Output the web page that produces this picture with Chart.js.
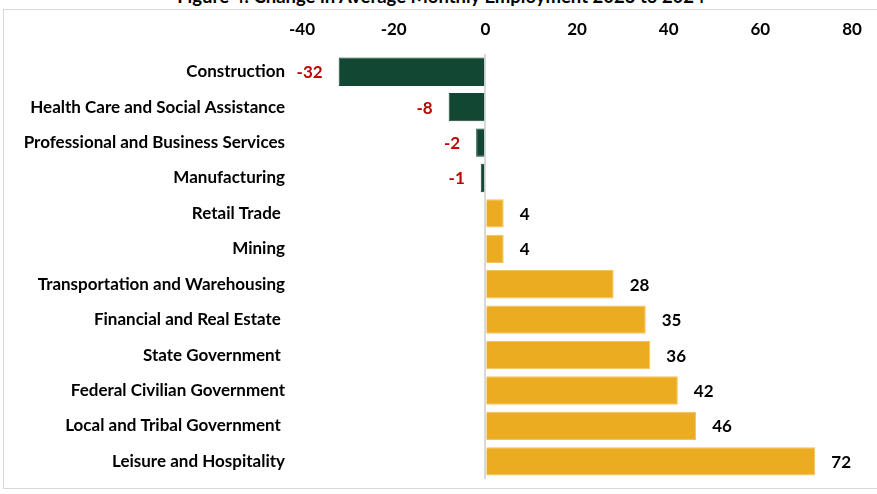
<!DOCTYPE html>
<html>
<head>
<meta charset="utf-8">
<script src="https://cdn.jsdelivr.net/npm/chart.js@4.4.1/dist/chart.umd.min.js"></script>
<style>
  html, body { margin: 0; padding: 0; background: #fff; }
  #wrap { position: relative; width: 877px; height: 494px; overflow: hidden; }
  #frame {
    position: absolute; left: 3px; top: 9px; width: 890px; height: 480px;
    border: 1px solid #d9d9d9; box-sizing: border-box;
  }
  #title {
    position: absolute; left: 0; top: -15px; width: 882px; text-align: center;
    font: bold 18.5px Lato, sans-serif; color: #000; white-space: nowrap;
  }
  #chart { position: absolute; left: 0; top: 0; }
</style>
</head>
<body>
<div id="wrap">
  <div id="frame"></div>
  <div id="title">Figure 4: Change in Average Monthly Employment 2023 to 2024</div>
  <canvas id="chart" width="877" height="494"></canvas>
</div>
<script>
// Change in average monthly employment by industry, 2023 to 2024
const industries = [
  'Construction',
  'Health Care and Social Assistance',
  'Professional and Business Services',
  'Manufacturing',
  'Retail Trade ',
  'Mining',
  'Transportation and Warehousing',
  'Financial and Real Estate ',
  'State Government ',
  'Federal Civilian Government',
  'Local and Tribal Government ',
  'Leisure and Hospitality'
];
const changes = [-32, -8, -2, -1, 4, 4, 28, 35, 36, 42, 46, 72];
const axisMin = -40;
const axisMax = 80;
const axisStep = 20;

const GREEN = '#124734';
const GOLD = '#ECAC22';
const FONT = 'Lato, sans-serif';

const barColors = changes.map(v => v < 0 ? GREEN : GOLD);
const barBorders = changes.map(v => v < 0 ? GREEN : '#F3C25A');

new Chart(document.getElementById('chart'), {
  type: 'bar',
  data: {
    labels: industries,
    datasets: [{
      data: changes,
      backgroundColor: barColors,
      borderColor: barBorders,
      borderWidth: 1,
      categoryPercentage: 0.8,
      barPercentage: 1.0,
    }]
  },
  options: {
    indexAxis: 'y',
    responsive: false,
    animation: false,
    layout: { padding: { top: 20, right: 25, bottom: 15, left: 0 } },
    plugins: {
      legend: { display: false },
      tooltip: { enabled: false },
    },
    scales: {
      x: {
        position: 'top',
        min: axisMin,
        max: axisMax,
        border: { display: false },
        grid: {
          drawTicks: false,
          // only the zero line is shown
          color: ctx => ctx.tick && ctx.tick.value === 0 ? '#d9d9d9' : 'transparent',
          lineWidth: 2,
        },
        ticks: {
          stepSize: axisStep,
          padding: 14,
          color: '#000',
          font: { family: FONT, size: 17, weight: 'bold' },
        },
        afterFit(scale) { scale.height = 34; }
      },
      y: {
        border: { display: false },
        grid: { display: false, drawTicks: false },
        ticks: {
          padding: 17,
          color: '#000',
          font: { family: FONT, size: 17, weight: 'bold' },
        },
        afterFit(scale) {
          scale.width = 302;
          scale.paddingTop = 0;
          scale.paddingBottom = 0;
        }
      }
    }
  },
  plugins: [{
    // value labels: negatives in red to the left, positives in black to the right
    afterDatasetsDraw(chart) {
      const c = chart.ctx;
      const meta = chart.getDatasetMeta(0);
      c.save();
      c.font = `bold 17px ${FONT}`;
      c.textBaseline = 'middle';
      meta.data.forEach((bar, i) => {
        const v = changes[i];
        if (v < 0) {
          c.fillStyle = '#C00000';
          c.textAlign = 'right';
          c.fillText(String(v), bar.x - 16, bar.y + 1);
        } else {
          c.fillStyle = '#000';
          c.textAlign = 'left';
          c.fillText(String(v), bar.x + 16, bar.y + 1);
        }
      });
      c.restore();
    }
  }]
});
</script>
</body>
</html>
